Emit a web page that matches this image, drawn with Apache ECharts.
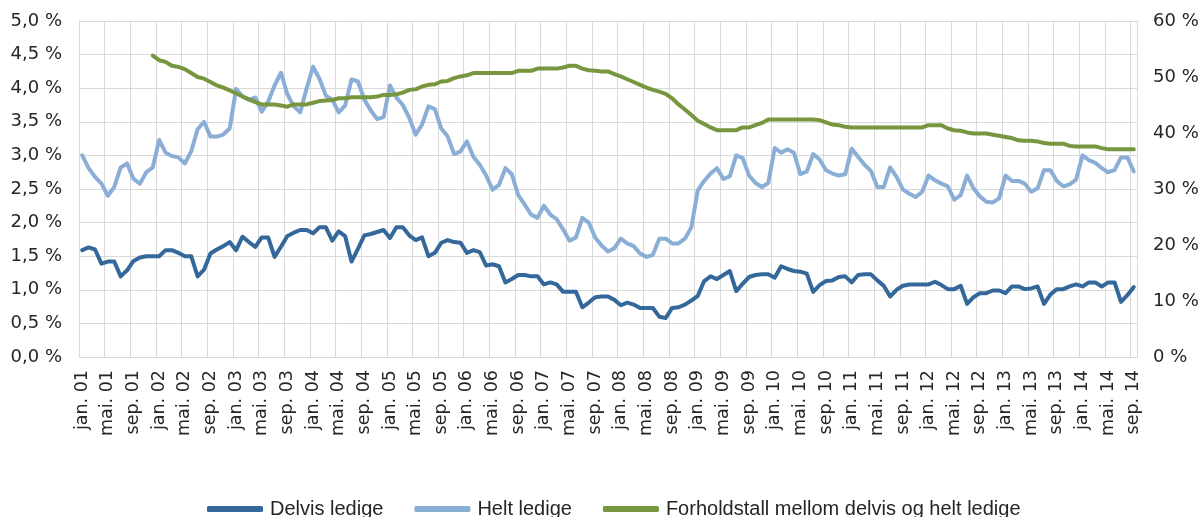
<!DOCTYPE html>
<html>
<head>
<meta charset="utf-8">
<script src="https://cdn.jsdelivr.net/npm/echarts@6/dist/echarts.min.js"></script>
<style>
  html, body { margin: 0; padding: 0; background: #fff; }
  #chart { width: 1204px; height: 517px; }
</style>
</head>
<body>
<div id="chart"></div>
<script>
var monthNames = ['jan.', 'feb.', 'mar.', 'apr.', 'mai.', 'jun.', 'jul.', 'aug.', 'sep.', 'okt.', 'nov.', 'des.'];
var years = ['01', '02', '03', '04', '05', '06', '07', '08', '09', '10', '11', '12', '13', '14'];
var lastMonthCount = 9; // data ends sep. 14

var seriesNames = ['Delvis ledige', 'Helt ledige', 'Forholdstall mellom delvis og helt ledige'];

// Delvis ledige, % (left axis)
var delvis = [
  1.59, 1.63, 1.60, 1.39, 1.42, 1.42, 1.20, 1.29, 1.43, 1.48, 1.50, 1.50,
  1.50, 1.59, 1.59, 1.55, 1.50, 1.50, 1.20, 1.30, 1.54, 1.60, 1.65, 1.71,
  1.59, 1.79, 1.71, 1.64, 1.78, 1.78, 1.49, 1.64, 1.80, 1.85, 1.89, 1.89,
  1.84, 1.93, 1.93, 1.73, 1.87, 1.80, 1.42, 1.61, 1.81, 1.83, 1.86, 1.89,
  1.77, 1.93, 1.93, 1.81, 1.74, 1.78, 1.50, 1.55, 1.70, 1.74, 1.71, 1.70,
  1.55, 1.59, 1.56, 1.36, 1.38, 1.35, 1.11, 1.16, 1.22, 1.22, 1.20, 1.20,
  1.08, 1.11, 1.08, 0.97, 0.97, 0.97, 0.74, 0.81, 0.89, 0.90, 0.90, 0.85,
  0.77, 0.81, 0.78, 0.73, 0.73, 0.73, 0.60, 0.58, 0.73, 0.74, 0.78, 0.84,
  0.91, 1.13, 1.20, 1.16, 1.22, 1.28, 0.98, 1.09, 1.19, 1.22, 1.23, 1.23,
  1.18, 1.35, 1.31, 1.28, 1.27, 1.24, 0.97, 1.07, 1.13, 1.14, 1.19, 1.20,
  1.11, 1.22, 1.23, 1.23, 1.14, 1.06, 0.90, 1.00, 1.06, 1.08, 1.08, 1.08,
  1.08, 1.12, 1.07, 1.01, 1.01, 1.06, 0.79, 0.89, 0.95, 0.95, 0.99, 0.99,
  0.95, 1.05, 1.05, 1.01, 1.02, 1.05, 0.79, 0.93, 1.01, 1.01, 1.05, 1.08,
  1.05, 1.11, 1.11, 1.05, 1.11, 1.11, 0.82, 0.92, 1.04
];

// Helt ledige, % (left axis)
var helt = [
  3.00, 2.81, 2.68, 2.58, 2.40, 2.53, 2.82, 2.88, 2.65, 2.58, 2.75, 2.82,
  3.23, 3.04, 2.99, 2.97, 2.88, 3.06, 3.39, 3.50, 3.28, 3.28, 3.31, 3.40,
  3.99, 3.88, 3.83, 3.86, 3.65, 3.80, 4.04, 4.23, 3.91, 3.73, 3.64, 4.00,
  4.32, 4.14, 3.89, 3.83, 3.64, 3.74, 4.13, 4.10, 3.83, 3.67, 3.54, 3.57,
  4.04, 3.86, 3.75, 3.56, 3.31, 3.46, 3.73, 3.69, 3.40, 3.28, 3.02, 3.06,
  3.21, 2.98, 2.86, 2.70, 2.49, 2.56, 2.81, 2.72, 2.41, 2.27, 2.12, 2.07,
  2.25, 2.12, 2.05, 1.90, 1.73, 1.78, 2.07, 2.00, 1.78, 1.66, 1.57, 1.62,
  1.76, 1.69, 1.65, 1.54, 1.49, 1.52, 1.76, 1.76, 1.69, 1.69, 1.76, 1.93,
  2.48, 2.62, 2.73, 2.81, 2.65, 2.69, 3.00, 2.96, 2.70, 2.59, 2.53, 2.59,
  3.11, 3.04, 3.09, 3.04, 2.72, 2.76, 3.02, 2.94, 2.78, 2.73, 2.70, 2.72,
  3.10, 2.98, 2.86, 2.77, 2.53, 2.53, 2.82, 2.68, 2.49, 2.43, 2.38, 2.46,
  2.70, 2.63, 2.58, 2.54, 2.34, 2.41, 2.70, 2.51, 2.39, 2.31, 2.30, 2.36,
  2.70, 2.62, 2.62, 2.58, 2.46, 2.51, 2.78, 2.78, 2.62, 2.54, 2.57, 2.64,
  3.00, 2.93, 2.89, 2.81, 2.75, 2.78, 2.97, 2.97, 2.76
];

// Forholdstall, % (right axis) - starts des. 01
var forhold = [
  null, null, null, null, null, null, null, null, null, null, null, 53.8,
  53.0, 52.7, 52.0, 51.8, 51.4, 50.7, 50.0, 49.7, 49.1, 48.5, 48.1, 47.6,
  47.1, 46.5, 46.0, 45.5, 45.1, 45.1, 45.1, 44.9, 44.7, 45.1, 45.1, 45.1,
  45.4, 45.7, 45.8, 45.9, 46.2, 46.2, 46.4, 46.4, 46.4, 46.4, 46.5, 46.8,
  46.8, 46.9, 47.2, 47.7, 47.8, 48.3, 48.6, 48.7, 49.2, 49.3, 49.8, 50.1,
  50.3, 50.7, 50.7, 50.7, 50.7, 50.7, 50.7, 50.7, 51.1, 51.1, 51.1, 51.5,
  51.5, 51.5, 51.5, 51.7, 52.0, 52.0, 51.5, 51.2, 51.1, 51.0, 51.0, 50.5,
  50.1, 49.6, 49.1, 48.6, 48.1, 47.7, 47.4, 47.0, 46.2, 45.1, 44.2, 43.2,
  42.2, 41.6, 41.0, 40.5, 40.5, 40.5, 40.5, 41.0, 41.0, 41.4, 41.8, 42.4,
  42.4, 42.4, 42.4, 42.4, 42.4, 42.4, 42.4, 42.3, 41.9, 41.5, 41.4, 41.1,
  41.0, 41.0, 41.0, 41.0, 41.0, 41.0, 41.0, 41.0, 41.0, 41.0, 41.0, 41.0,
  41.4, 41.4, 41.4, 40.8, 40.5, 40.4, 40.1, 39.9, 39.9, 39.9, 39.7, 39.5,
  39.3, 39.1, 38.7, 38.6, 38.6, 38.5, 38.2, 38.1, 38.1, 38.1, 37.7, 37.6,
  37.6, 37.6, 37.6, 37.3, 37.1, 37.1, 37.1, 37.1, 37.1
];

var categories = [];
years.forEach(function(y, yi) {
  var n = yi === years.length - 1 ? lastMonthCount : 12;
  for (var m = 0; m < n; m++) categories.push(monthNames[m] + ' ' + y);
});

var colDelvis = '#35689a';
var colHelt = '#8aaed6';
var colForhold = '#77963f';
var gridCol = '#d9d9d9';
var textCol = '#262626';
var axisFont = '"DejaVu Sans", Verdana, sans-serif';

var chart = echarts.init(document.getElementById('chart'), null, { renderer: 'canvas' });

function lineSeries(name, data, color, yIdx) {
  return {
    name: name,
    type: 'line',
    yAxisIndex: yIdx,
    data: data,
    showSymbol: false,
    symbol: 'none',
    connectNulls: false,
    lineStyle: { color: color, width: 4, cap: 'round', join: 'round' },
    itemStyle: { color: color }
  };
}

chart.setOption({
  animation: false,
  grid: { left: 79, right: 67, top: 21, bottom: 160, containLabel: false },
  legend: {
    data: seriesNames,
    left: 202,
    top: 494,
    icon: 'roundRect',
    itemWidth: 56,
    itemHeight: 6,
    itemGap: 31,
    textStyle: {
      color: textCol,
      fontSize: 20,
      fontFamily: '"Liberation Sans", Arial, sans-serif',
      padding: [0, 0, 0, 2]
    }
  },
  xAxis: {
    type: 'category',
    data: categories,
    boundaryGap: true,
    axisLine: { show: true, lineStyle: { color: gridCol, width: 1 } },
    axisTick: { show: false },
    axisLabel: {
      interval: 3,
      rotate: 90,
      margin: 13,
      color: textCol,
      fontSize: 17.5,
      fontFamily: axisFont
    },
    splitLine: { show: true, interval: 3, lineStyle: { color: gridCol, width: 1 } }
  },
  yAxis: [
    {
      type: 'value',
      min: 0,
      max: 5,
      interval: 0.5,
      position: 'left',
      axisLine: { show: true, lineStyle: { color: gridCol } },
      axisTick: { show: false },
      axisLabel: {
        margin: 17,
        color: textCol,
        fontSize: 18,
        fontFamily: axisFont,
        formatter: function(v) { return v.toFixed(1).replace('.', ',') + ' %'; }
      },
      splitLine: { show: true, lineStyle: { color: gridCol, width: 1 } }
    },
    {
      type: 'value',
      min: 0,
      max: 60,
      interval: 10,
      position: 'right',
      axisLine: { show: true, lineStyle: { color: gridCol } },
      axisTick: { show: false },
      axisLabel: {
        margin: 16,
        color: textCol,
        fontSize: 18,
        fontFamily: axisFont,
        formatter: function(v) { return v + ' %'; }
      },
      splitLine: { show: false }
    }
  ],
  series: [
    lineSeries(seriesNames[0], delvis, colDelvis, 0),
    lineSeries(seriesNames[1], helt, colHelt, 0),
    lineSeries(seriesNames[2], forhold, colForhold, 1)
  ]
});

window.addEventListener('resize', function() { chart.resize(); });
</script>
</body>
</html>
